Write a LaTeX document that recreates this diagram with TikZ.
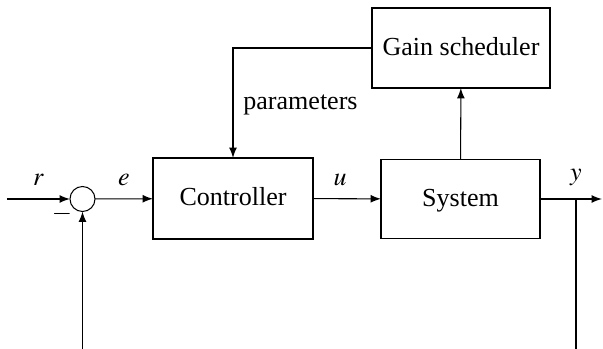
\documentclass[tikz,border=0pt]{standalone}
\usepackage{mathptmx}
\usepackage{fontspec}
\setmainfont{Liberation Serif}
\usetikzlibrary{calc}
\tikzset{%
  >=latex, % arrow tips
  inner sep=0pt,%
  outer sep=0pt,%
  block/.style={draw,rectangle,text height=1.6ex,text depth=.4ex},%
  sumpoint/.style={draw,circle,minimum size=25*\pxu}%
}
\def\pxu{0.0135cm}

\begin{document}
\begin{tikzpicture}[x=\pxu,y=-\pxu] % GAIN SCHEDULING

\useasboundingbox (0,0) rectangle (603,349);

\node[sumpoint] (sum) at (82.5,199) {};
\node[block,minimum width=160*\pxu,minimum height=81*\pxu] (ctrl) at (233,198.5) {Controller};
\node[block,minimum width=159*\pxu,minimum height=79*\pxu] (sys) at (460.5,199) {System};
\node[block,minimum width=178*\pxu,minimum height=80*\pxu] (sched) at (461,48) {Gain scheduler};

\coordinate (in) at (7,199);
\coordinate (out) at (602,199);
\coordinate (branch) at (576,199);
\coordinate (fbout) at (576,349);
\coordinate (fbin) at (82.5,349);

\draw[->] (in) -- (sum) node[pos=0.5,above=5pt] {$r$};
\draw[->] (sum) -- (ctrl) node[pos=0.5,above=5pt] {$e$};
\draw[->] (ctrl) -- (sys) node[pos=0.4,above=5pt] {$u$};
\draw[->] (sys) -- (out);
\node[above=5pt] (ylab) at (branch) {$y$};
\draw (branch) -- (fbout);
\draw[->] (fbin) -- (sum);
\node (minus) at (62,214) {$-$};

\draw[->] (sys) -- (sched);
\draw[->] (sched.west) -| (ctrl.north)
  node[pos=0.76,right=4pt] {parameters};

\end{tikzpicture}
\end{document}
